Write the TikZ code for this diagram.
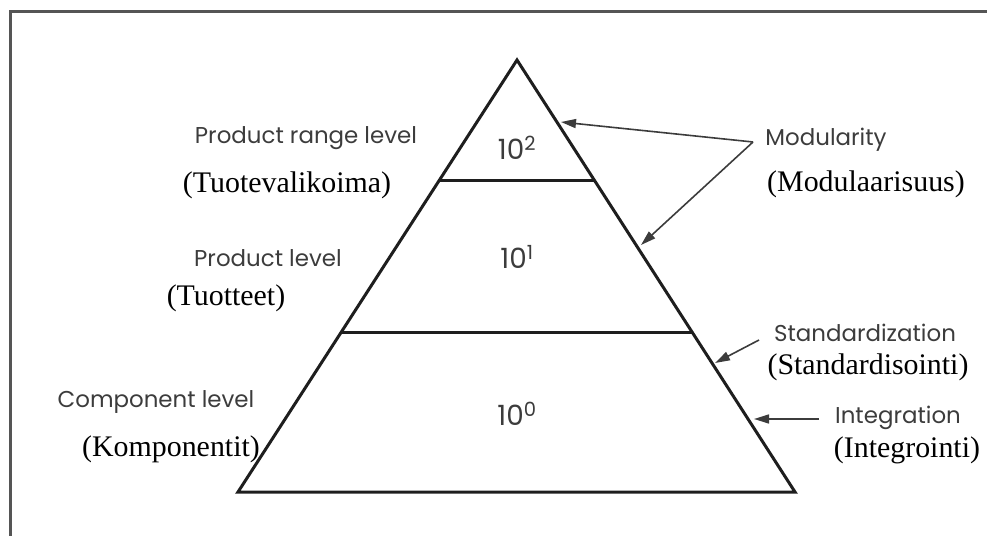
\documentclass[tikz,border=0pt]{standalone}
\usepackage{fontspec}
\newfontfamily\engfont{Poppins}
\newfontfamily\finfont{Liberation Serif}
\usetikzlibrary{arrows.meta, positioning, calc}
\definecolor{cframe}{HTML}{555555}
\definecolor{cline}{HTML}{1E1E1E}
\definecolor{ctext}{HTML}{3C3C3C}
\tikzset{
  every picture/.style={line width=3bp},
  eng/.style={font=\engfont\fontsize{23}{27}\selectfont, text=ctext, inner sep=0pt},
  fin/.style={font=\finfont\fontsize{30}{34}\selectfont, text=black, inner sep=0pt},
  num/.style={font=\engfont\fontsize{28}{32}\selectfont, text=ctext, inner sep=0pt},
  arrow/.style={-{Triangle[length=15bp, width=9bp]}, draw=ctext, line width=1.6bp},
}
\begin{document}
\begin{tikzpicture}[x=1bp, y=-1bp]
  \useasboundingbox (0,0) rectangle (987,536);
  % frame
  \draw[cframe] (987,12) -- (10,12) -- (10,536);
  % pyramid
  \coordinate (apex) at (517,60);
  \coordinate (bl) at (238,492);
  \coordinate (br) at (795,492);
  \draw[cline, line join=miter] (apex) -- (bl) -- (br) -- cycle;
  \draw[cline] ($(apex)!0.278!(bl)$) -- ($(apex)!0.278!(br)$);
  \draw[cline] ($(apex)!0.630!(bl)$) -- ($(apex)!0.630!(br)$);
  \node[num] (n2) at (517,148) {10\textsuperscript{2}};
  \node[num] (n1) at (517,257) {10\textsuperscript{1}};
  \node[num] (n0) at (517,414) {10\textsuperscript{0}};
  % levels
  \node[eng] (range) at (306,138) {Product range level};
  \node[fin] (rangefi) at (287,185) {(Tuotevalikoima)};
  \node[eng] (prod) at (268,258) {Product level};
  \node[fin] (prodfi) at (226,298) {(Tuotteet)};
  \node[eng] (comp) at (156,402) {Component level};
  \node[fin] (compfi) at (171,449) {(Komponentit)};
  % right side
  \node[eng] (modu) at (826,140) {Modularity};
  \node[fin] (modufi) at (866,184) {(Modulaarisuus)};
  \node[eng] (stan) at (865,333) {Standardization};
  \node[fin] (stanfi) at (868,367) {(Standardisointi)};
  \node[eng] (inte) at (898,418) {Integration};
  \node[fin] (intefi) at (907,450) {(Integrointi)};
  \coordinate (mfrom) at (753,142);
  \coordinate (mtip1) at (561,122);
  \coordinate (mtip2) at (641,245);
  \coordinate (sfrom) at (759,340);
  \coordinate (stip) at (715,363);
  \coordinate (ifrom) at (819,419);
  \coordinate (itip) at (754,419);
  \draw[arrow] (mfrom) -- (mtip1);
  \draw[arrow] (mfrom) -- (mtip2);
  \draw[arrow] (sfrom) -- (stip);
  \draw[arrow] (ifrom) -- (itip);
\end{tikzpicture}
\end{document}
